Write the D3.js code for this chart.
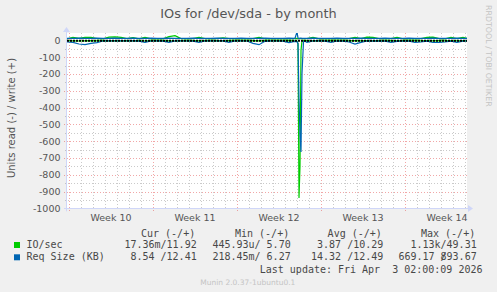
<!DOCTYPE html>
<html>
<head>
<meta charset="utf-8">
<script src="https://cdn.jsdelivr.net/npm/d3@7"></script>
<style>
	body { margin: 0; background: #f0f0f0; }
	svg text { font-family: "DejaVu Sans", sans-serif; fill: #555; }
	svg text.mono { font-family: "DejaVu Sans Mono", monospace; white-space: pre; fill: #484848; }
</style>
</head>
<body>
<svg id="wrapper" width="497" height="292"></svg>
<script>
// hours since the left edge of the graph (Sun Mar 1 2026 20:00 UTC)
let hours = [
	0, 12, 24, 36, 48, 60, 72, 84, 96, 108, 120, 132, 144, 156, 168, 180, 192, 204, 216, 228,
	240, 252, 264, 276, 288, 300, 312, 324, 336, 348, 360, 372, 384, 396, 408, 420, 432, 444, 456,
	460, 462, 464, 466, 468, 470, 473, 476,
	480, 492, 504, 516, 528, 540, 552, 564, 576, 588, 600, 612, 624, 636, 648, 660, 672, 684, 696,
	708, 720, 732, 744, 756, 768, 780, 792, 800,
];
let ioRead = [
	-2, -3, -4, -3, -2, -3, -2, -3, -2, -3, -2, -3, -2, -4, -2, -3, -2, -3, -4, -2,
	-3, -2, -3, -2, -3, -2, -3, -2, -3, -2, -3, -2, -3, -2, -3, -2, -3, -2, -3,
	-4, -20, -938, -750, -60, -3, -2, -3,
	-2, -3, -2, -3, -2, -3, -2, -3, -2, -3, -2, -3, -2, -3, -2, -3, -2, -3, -2,
	-3, -2, -3, -2, -3, -2, -3, -2, -3,
];
let ioWrite = [
	8, 18, 12, 17, 18, 10, 9, 19, 20, 18, 10, 16, 9, 18, 9, 10, 9, 22, 28, 10,
	9, 10, 18, 10, 9, 10, 15, 10, 9, 10, 9, 10, 17, 9, 10, 9, 10, 9, 10,
	12, 10, 10, 11, 10, 10, 9, 10,
	10, 18, 9, 10, 9, 10, 9, 10, 18, 10, 19, 18, 10, 9, 10, 17, 9, 10, 9,
	10, 18, 19, 10, 9, 18, 10, 18, 12,
];
let reqRead = [
	-10, -12, -22, -26, -18, -14, -4, -3, -4, -3, -4, -3, -5, -12, -4, -3, -5, -12, -4, -3,
	-4, -5, -12, -4, -3, -4, -3, -12, -4, -3, -4, -18, -26, -6, -3, -4, -5, -14, -6,
	-8, -20, -350, -560, -665, -196, -8, -5,
	-12, -4, -3, -5, -12, -4, -5, -10, -22, -12, -4, -5, -4, -5, -12, -6, -4, -5, -12,
	-10, -5, -13, -12, -10, -5, -12, -5, -4,
];
let reqWrite = [
	12, 12, 13, 12, 12, 13, 12, 12, 13, 12, 12, 13, 12, 12, 13, 12, 12, 13, 12, 12,
	12, 13, 12, 12, 12, 13, 12, 12, 12, 13, 12, 12, 12, 13, 12, 12, 12, 13, 12,
	50, 14, 12, 12, 13, 12, 12, 12,
	12, 13, 12, 12, 12, 13, 12, 12, 12, 13, 12, 12, 12, 13, 12, 12, 12, 13, 12,
	12, 12, 13, 12, 12, 12, 13, 12, 12,
];

let yTicks = [0, -100, -200, -300, -400, -500, -600, -700, -800, -900, -1000];
let weekLabels = ["Week 10", "Week 11", "Week 12", "Week 13", "Week 14"];

let legendNames = ["IO/sec", "Req Size (KB)"];
let legendColors = ["#00cc00", "#0066b3"];
let legendHeaders = ["Cur (-/+)", "Min (-/+)", "Avg (-/+)", "Max (-/+)"];
let curValues = ["17.36m/11.92", "8.54 /12.41"];
let minValues = ["445.93u/ 5.70", "218.45m/ 6.27"];
let avgValues = ["3.87 /10.29", "14.32 /12.49"];
let maxValues = ["1.13k/49.31", "669.17 /893.67"];

let startTime = Date.UTC(2026, 2, 1, 20);
let hourMs = 3600 * 1000;

let svg = d3.select("#wrapper");

let plotLeft = 67;
let plotRight = 467;
let plotTop = 33;
let plotBottom = 208.3;

let x = d3
	.scaleUtc()
	.domain([new Date(startTime), new Date(startTime + 800 * hourMs)])
	.range([plotLeft, plotRight]);
let y = d3.scaleLinear().domain([-1000, 43.5]).range([plotBottom, plotTop]);

let minorColor = "rgba(150,150,150,0.5)";
let majorColor = "rgba(225,60,60,0.45)";
let axisColor = "#cfd6f8";

let drawGrid = function () {
	svg
		.append("rect")
		.attr("x", plotLeft)
		.attr("y", plotTop)
		.attr("width", plotRight - plotLeft)
		.attr("height", plotBottom - plotTop)
		.attr("fill", "#ffffff");

	let grid = svg.append("g").attr("shape-rendering", "crispEdges");

	// minor horizontal lines every 50
	let minorY = yTicks.slice(0, -1).map((v) => v - 50);
	grid
		.selectAll(".hminor")
		.data(minorY)
		.enter()
		.append("line")
		.attr("x1", plotLeft - 2)
		.attr("x2", plotRight)
		.attr("y1", (d) => Math.round(y(d)) + 0.5)
		.attr("y2", (d) => Math.round(y(d)) + 0.5)
		.attr("stroke", minorColor)
		.attr("stroke-dasharray", "1,2");

	grid
		.selectAll(".hmajor")
		.data(yTicks.filter((v) => v !== 0))
		.enter()
		.append("line")
		.attr("x1", plotLeft - 3)
		.attr("x2", plotRight)
		.attr("y1", (d) => Math.round(y(d)) + 0.5)
		.attr("y2", (d) => Math.round(y(d)) + 0.5)
		.attr("stroke", majorColor)
		.attr("stroke-dasharray", "1,2");

	let days = d3.utcDay.range(x.domain()[0], x.domain()[1]);
	grid
		.selectAll(".vgrid")
		.data(days)
		.enter()
		.append("line")
		.attr("x1", (d) => Math.round(x(d)) + 0.5)
		.attr("x2", (d) => Math.round(x(d)) + 0.5)
		.attr("y1", plotTop)
		.attr("y2", (d) => plotBottom + (d.getUTCDay() === 1 ? 3 : 2))
		.attr("stroke", (d) => (d.getUTCDay() === 1 ? majorColor : minorColor))
		.attr("stroke-dasharray", "1,2");
};

let drawAxes = function () {
	let g = svg.append("g");
	g.append("line")
		.attr("x1", plotLeft - 3)
		.attr("x2", plotRight + 2)
		.attr("y1", Math.round(plotBottom) + 0.5)
		.attr("y2", Math.round(plotBottom) + 0.5)
		.attr("stroke", axisColor);
	g.append("path")
		.attr("d", `M${plotRight + 1},${Math.round(plotBottom) - 3} L${plotRight + 6},${Math.round(plotBottom) + 0.5} L${plotRight + 1},${Math.round(plotBottom) + 4} Z`)
		.attr("fill", axisColor);
	g.append("line")
		.attr("x1", plotLeft - 0.5)
		.attr("x2", plotLeft - 0.5)
		.attr("y1", plotBottom + 3)
		.attr("y2", plotTop - 2)
		.attr("stroke", axisColor);
	g.append("path")
		.attr("d", `M${plotLeft - 4},${plotTop - 1} L${plotLeft - 0.5},${plotTop - 6} L${plotLeft + 3},${plotTop - 1} Z`)
		.attr("fill", axisColor);

	// y tick labels
	svg
		.selectAll(".ylabel")
		.data(yTicks)
		.enter()
		.append("text")
		.attr("x", 60.5)
		.attr("y", (d) => y(d))
		.attr("dy", "0.36em")
		.attr("text-anchor", "end")
		.attr("font-size", "9.5px")
		.text((d) => d);

	// week labels in the middle of each week
	let mondays = d3.utcMonday.range(x.domain()[0], x.domain()[1]);
	svg
		.selectAll(".xlabel")
		.data(weekLabels)
		.enter()
		.append("text")
		.attr("x", (d, i) => x(new Date(+mondays[i] + 84 * hourMs)))
		.attr("y", 221)
		.attr("text-anchor", "middle")
		.attr("font-size", "9.5px")
		.text((d) => d);

	svg
		.append("text")
		.attr("transform", "translate(14.5,118) rotate(-90)")
		.attr("text-anchor", "middle")
		.attr("font-size", "10px")
		.text("Units read (-) / write (+)");

	svg
		.append("text")
		.attr("x", 248.5)
		.attr("y", 18)
		.attr("text-anchor", "middle")
		.attr("font-size", "12.9px")
		.text("IOs for /dev/sda - by month");

	svg
		.append("text")
		.attr("transform", "translate(486,5) rotate(90)")
		.attr("font-size", "7.9px")
		.style("fill", "#c4c4c4")
		.text("RRDTOOL / TOBI OETIKER");
};

let drawSeries = function () {
	svg
		.append("clipPath")
		.attr("id", "plotclip")
		.append("rect")
		.attr("x", plotLeft)
		.attr("y", plotTop)
		.attr("width", plotRight - plotLeft)
		.attr("height", plotBottom - plotTop);

	let g = svg.append("g").attr("clip-path", "url(#plotclip)");
	let line = d3
		.line()
		.x((d) => x(new Date(startTime + d[0] * hourMs)))
		.y((d) => y(d[1]));

	let series = [
		{ values: ioRead, color: legendColors[0] },
		{ values: ioWrite, color: legendColors[0] },
		{ values: reqRead, color: legendColors[1] },
		{ values: reqWrite, color: legendColors[1] },
	];
	series.forEach((s) => {
		g.append("path")
			.attr("d", line(hours.map((h, i) => [h, s.values[i]])))
			.attr("fill", "none")
			.attr("stroke", s.color)
			.attr("stroke-width", 1.2);
	});

	// zero line
	g.append("line")
		.attr("x1", plotLeft)
		.attr("x2", plotRight)
		.attr("y1", y(0) + 0.5)
		.attr("y2", y(0) + 0.5)
		.attr("stroke", "#000")
		.attr("stroke-width", 2)
		.attr("stroke-dasharray", "2,1");
};

let drawLegend = function () {
	let colRight = [196.7, 290.7, 383.3, 476.7];
	let charW = 6.02;
	svg
		.selectAll(".lhead")
		.data(legendHeaders)
		.enter()
		.append("text")
		.attr("class", "mono")
		.attr("x", (d, i) => colRight[i] - 1.5)
		.attr("y", 237)
		.attr("text-anchor", "end")
		.attr("font-size", "10px")
		.text((d) => d);

	let columns = [curValues, minValues, avgValues, maxValues];
	legendNames.forEach((name, r) => {
		let rowY = 248 + r * 12.3;
		svg
			.append("rect")
			.attr("x", 14)
			.attr("y", rowY - 6)
			.attr("width", 6)
			.attr("height", 6)
			.attr("fill", legendColors[r]);
		svg
			.append("text")
			.attr("class", "mono")
			.attr("x", 26.5)
			.attr("y", rowY)
			.attr("text-anchor", "start")
			.attr("font-size", "10px")
			.text(name);
		columns.forEach((col, c) => {
			// read part ends five characters before the column edge, write part is right aligned
			let s = col[r];
			let cut = s.indexOf("/") + 1;
			svg
				.append("text")
				.attr("class", "mono")
				.attr("x", colRight[c] - 5 * charW)
				.attr("y", rowY)
				.attr("text-anchor", "end")
				.attr("font-size", "10px")
				.text(s.slice(0, cut));
			svg
				.append("text")
				.attr("class", "mono")
				.attr("x", colRight[c])
				.attr("y", rowY)
				.attr("text-anchor", "end")
				.attr("font-size", "10px")
				.text(s.slice(cut));
		});
	});

	svg
		.append("text")
		.attr("class", "mono")
		.attr("x", 482.5)
		.attr("y", 272.5)
		.attr("text-anchor", "end")
		.attr("font-size", "10px")
		.text("Last update: Fri Apr  3 02:00:09 2026");

	svg
		.append("text")
		.attr("x", 247.8)
		.attr("y", 284.5)
		.attr("text-anchor", "middle")
		.attr("font-size", "7.5px")
		.style("fill", "#c4c4c4")
		.text("Munin 2.0.37-1ubuntu0.1");
};

drawGrid();
drawSeries();
drawAxes();
drawLegend();
</script>
</body>
</html>
